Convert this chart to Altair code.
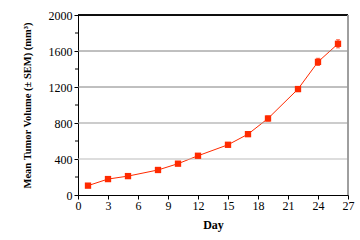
import altair as alt
import pandas as pd

days = [1, 3, 5, 8, 10, 12, 15, 17, 19, 22, 24, 26]
volume = [104, 177, 210, 278, 348, 436, 558, 676, 850, 1177, 1479, 1680]
sem = [10, 12, 12, 14, 16, 18, 20, 25, 28, 28, 40, 45]

grid_vals = [400, 800, 1200, 1600]
grid_cols = ["#bbbbbb", "#999999", "#808080", "#808080"]
minor_vals = [200, 600, 1000, 1400, 1800]

df = pd.DataFrame({"day": days, "vol": volume, "sem": sem})
df["lo"] = df["vol"] - df["sem"]
df["hi"] = df["vol"] + df["sem"]
gdf = pd.DataFrame({"v": grid_vals, "c": grid_cols})
mdf = pd.DataFrame({"v": minor_vals})

FONT = "Liberation Serif"
RED = "#ff2a00"

xscale = alt.Scale(domain=[0, 27], nice=False, zero=False)
yscale = alt.Scale(domain=[0, 2000], nice=False)

xaxis = alt.Axis(title="Day", values=list(range(0, 28, 3)), grid=False, format="d",
                 domainColor="black", tickColor="black", tickSize=4,
                 labelFont=FONT, labelFontSize=12, labelColor="black",
                 labelOverlap=False, labelFlush=False,
                 titleFont=FONT, titleFontSize=12, titleFontWeight="bold",
                 titleColor="black", titlePadding=8, labelPadding=1)
yaxis = alt.Axis(title="Mean Tumor Volume (± SEM) (mm³)",
                 values=list(range(0, 2001, 400)), grid=False, format="d",
                 domainColor="black", tickColor="black", tickSize=4,
                 labelFont=FONT, labelFontSize=12, labelColor="black",
                 labelOverlap=False, labelFlush=False,
                 titleFont=FONT, titleFontSize=10.5, titleFontWeight="bold",
                 titleColor="black", titlePadding=16, labelPadding=2)

base = alt.Chart(df)

line = base.mark_line(color=RED, strokeWidth=1).encode(
    x=alt.X("day:Q", scale=xscale, axis=xaxis),
    y=alt.Y("vol:Q", scale=yscale, axis=yaxis),
)

grid = alt.Chart(gdf).mark_rule(strokeWidth=1).encode(
    y=alt.Y("v:Q", scale=yscale, axis=yaxis),
    color=alt.Color("c:N", scale=None),
    x=alt.value(0), x2=alt.value(270),
)

minor = alt.Chart(mdf).mark_rule(color="black", strokeWidth=1).encode(
    y=alt.Y("v:Q", scale=yscale, axis=yaxis),
    x=alt.value(-3), x2=alt.value(0),
)

top = alt.Chart(gdf).mark_rule(color="black", strokeWidth=1).encode(
    x=alt.value(0), x2=alt.value(270), y=alt.value(0))
right = alt.Chart(gdf).mark_rule(color="#999999", strokeWidth=1).encode(
    x=alt.value(270), y=alt.value(0), y2=alt.value(180))

err = base.mark_errorbar(color=RED, ticks=alt.TickConfig(size=4), thickness=1).encode(
    x=alt.X("day:Q", scale=xscale, axis=xaxis),
    y=alt.Y("lo:Q", scale=yscale, axis=yaxis),
    y2="hi:Q",
)

pts = base.mark_square(color=RED, size=40, opacity=1).encode(
    x=alt.X("day:Q", scale=xscale, axis=xaxis),
    y=alt.Y("vol:Q", scale=yscale, axis=yaxis),
)

chart = alt.layer(line, grid, minor, top, right, err, pts).properties(
    width=270, height=180,
    autosize=alt.AutoSizeParams(type="none"),
    padding={"left": 78, "top": 15, "right": 12, "bottom": 45},
).configure_view(stroke=None).configure(background="white")

chart.save("out.html", embed_options={"renderer": "svg", "actions": False})
